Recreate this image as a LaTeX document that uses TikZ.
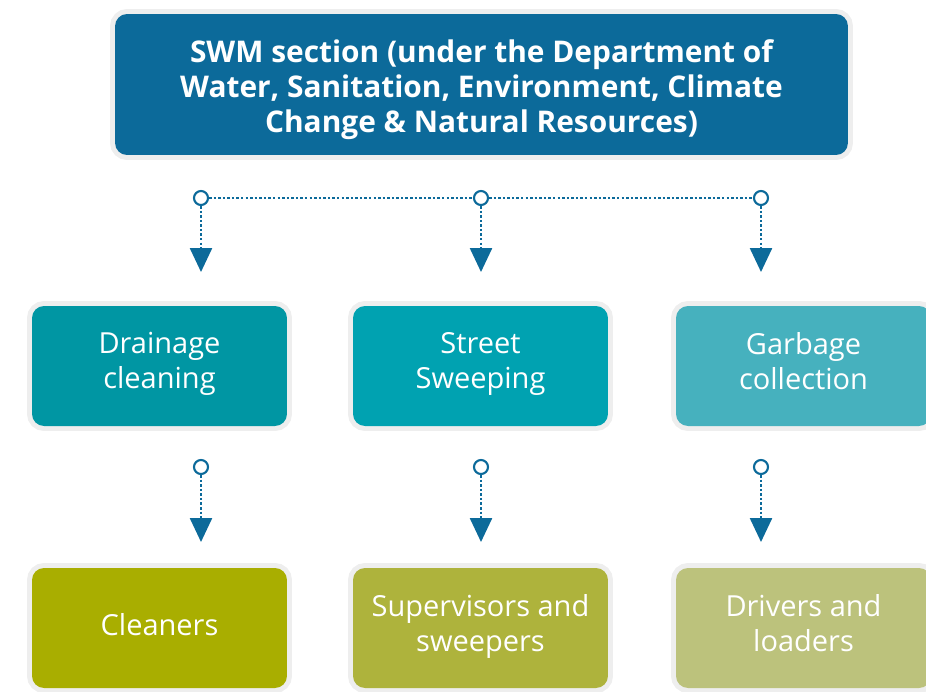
\documentclass[tikz,border=0pt]{standalone}
\usepackage{fontspec}
\setmainfont{Open Sans}
\usetikzlibrary{arrows.meta,shadows}

\definecolor{swmblue}{RGB}{12,106,154}
\definecolor{drainteal}{RGB}{0,150,163}
\definecolor{streetteal}{RGB}{0,162,177}
\definecolor{garbteal}{RGB}{70,177,190}
\definecolor{cleanolive}{RGB}{169,174,0}
\definecolor{supolive}{RGB}{174,179,60}
\definecolor{drivolive}{RGB}{188,194,124}
\definecolor{rimgrey}{RGB}{238,238,238}

\tikzset{
  box/.style={rounded corners=0.24cm, inner sep=0pt, text=white, align=center,
    minimum width=5.1cm, minimum height=2.4cm,
    font=\fontsize{16.5}{20}\selectfont,
    execute at begin node=\strut, execute at end node=\strut,
    drop shadow={shadow xshift=0.05cm, shadow yshift=-0.07cm, opacity=0.10},
    preaction={draw=rimgrey, line width=0.2cm}},
  knob/.style={circle, draw=swmblue, fill=white, line width=1.2pt,
    inner sep=0pt, minimum size=0.28cm},
  dots/.style={swmblue, line width=1.4pt, dash pattern=on 1.4pt off 1.2pt},
  link/.style={dots, -{Triangle[width=0.44cm,length=0.48cm]}},
}

\begin{document}
\begin{tikzpicture}[x=0.02cm,y=-0.02cm]
\useasboundingbox (0,0) rectangle (926,691);

% head office
\node[box, fill=swmblue, minimum width=14.66cm, minimum height=2.82cm,
  font=\bfseries\fontsize{17}{20}\selectfont] (swm) at (481.5,84.5)
  {\rule{0pt}{21pt}SWM section (under the Department of\\
   Water, Sanitation, Environment, Climate\\
   Change \& Natural Resources)};

% services
\node[box, fill=drainteal] (drain) at (159.5,366) {Drainage\\cleaning};
\node[box, fill=streetteal] (street) at (480.5,366) {Street\\Sweeping};
\node[box, fill=garbteal] (garb) at (803.5,366) {Garbage\\collection};

% staff
\node[box, fill=cleanolive] (clean) at (159.5,628) {Cleaners};
\node[box, fill=supolive] (sup) at (480.5,628) {Supervisors and\\sweepers};
\node[box, fill=drivolive] (driv) at (803.5,628) {Drivers and\\loaders};

% branch line under the head office
\coordinate (t1) at (201,272);
\coordinate (t2) at (481,272);
\coordinate (t3) at (761,272);
\node[knob] (k1) at (201,198) {};
\node[knob] (k2) at (481,198) {};
\node[knob] (k3) at (761,198) {};
\draw[dots] (k1) -- (k2) -- (k3);
\draw[link] (k1) -- (t1);
\draw[link] (k2) -- (t2);
\draw[link] (k3) -- (t3);

% service -> staff
\coordinate (u1) at (201,542);
\coordinate (u2) at (481,542);
\coordinate (u3) at (761,542);
\node[knob] (m1) at (201,467) {};
\node[knob] (m2) at (481,467) {};
\node[knob] (m3) at (761,467) {};
\draw[link] (m1) -- (u1);
\draw[link] (m2) -- (u2);
\draw[link] (m3) -- (u3);

\end{tikzpicture}
\end{document}
